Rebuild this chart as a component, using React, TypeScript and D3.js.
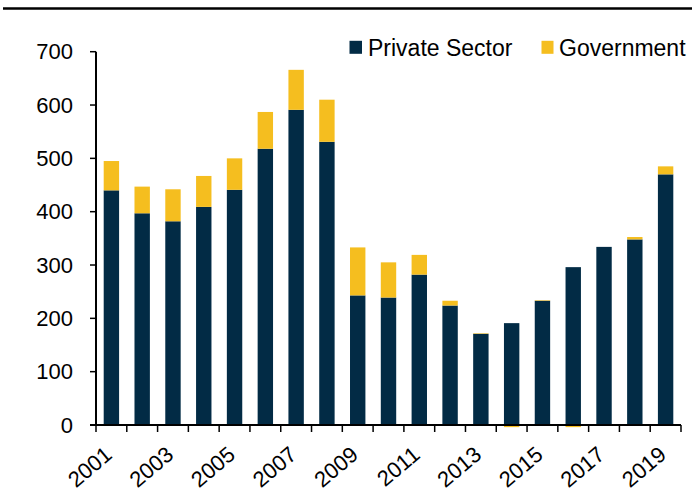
import React from "react";
import * as d3 from "d3";

const years = ["2001","2002","2003","2004","2005","2006","2007","2008","2009","2010","2011","2012","2013","2014","2015","2016","2017","2018","2019"];
const privateSector = [440, 397, 382, 409, 441, 518, 591, 531, 243, 239, 282, 224, 171, 191, 233, 296, 334, 348, 470];
const government = [55, 50, 60, 58, 59, 69, 75, 79, 90, 66, 37, 9, 1, -4, 1, -4, -1.5, 4.5, 15];
const yTicks = [0, 100, 200, 300, 400, 500, 600, 700];
const xLabelYears = ["2001","2003","2005","2007","2009","2011","2013","2015","2017","2019"];

const NAVY = "#022B45";
const GOLD = "#F5BE1F";
const FONT = "'Liberation Sans', Arial, sans-serif";

export default function App() {
  const width = 692, height = 491;
  const left = 96, right = 681, top = 51.7, bottom = 425;
  const x = d3.scaleBand<string>().domain(years).range([left, right]).paddingInner(0.5).paddingOuter(0.25);
  const y = d3.scaleLinear().domain([0, 700]).range([bottom, top]);
  const step = (right - left) / years.length;

  return (
    <svg width={width} height={height} style={{ position: "absolute", left: 0, top: 0 }} fontFamily={FONT}>
      <rect x={0} y={0} width={width} height={height} fill="#fff" />
      <line x1={3} x2={692} y1={8.5} y2={8.5} stroke="#000" strokeWidth={2.3} />
      {years.map((yr, i) => {
        const p = privateSector[i];
        const g = government[i];
        const bx = x(yr)!;
        const bw = x.bandwidth();
        return (
          <g key={yr}>
            <rect x={bx} width={bw} y={y(p)} height={y(0) - y(p)} fill={NAVY} />
            {g >= 0 ? (
              <rect x={bx} width={bw} y={y(p + g)} height={y(p) - y(p + g)} fill={GOLD} />
            ) : (
              <rect x={bx} width={bw} y={y(0)} height={y(g) - y(0)} fill={GOLD} />
            )}
          </g>
        );
      })}
      {/* y axis */}
      <line x1={left} x2={left} y1={y(700)} y2={y(0)} stroke="#000" strokeWidth={2} />
      {yTicks.map((t) => (
        <g key={t}>
          <line x1={left - 6} x2={left} y1={y(t)} y2={y(t)} stroke="#000" strokeWidth={1.5} />
          <text x={73} y={y(t)} dy="0.35em" textAnchor="end" fontSize={22} fill="#000">{t}</text>
        </g>
      ))}
      {/* x axis */}
      <line x1={left - 6} x2={right} y1={y(0)} y2={y(0)} stroke="#000" strokeWidth={2} />
      {d3.range(years.length + 1).map((i) => (
        <line key={i} x1={left + i * step} x2={left + i * step} y1={y(0)} y2={y(0) + 7} stroke="#000" strokeWidth={1.5} />
      ))}
      {xLabelYears.map((yr) => {
        const cx = x(yr)! + x.bandwidth() / 2 + 2;
        return (
          <text key={yr} transform={`translate(${cx},457) rotate(-40)`} textAnchor="end" fontSize={22} fill="#000">{yr}</text>
        );
      })}
      {/* legend */}
      <rect x={349.5} y={40.8} width={12.5} height={13} fill={NAVY} />
      <text x={368} y={56} fontSize={23} fill="#000">Private Sector</text>
      <rect x={541.5} y={40.8} width={12} height={13} fill={GOLD} />
      <text x={559} y={56} fontSize={23} fill="#000">Government</text>
    </svg>
  );
}
